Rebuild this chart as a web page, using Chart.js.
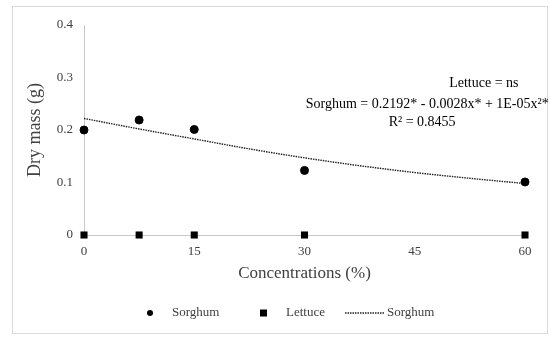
<!DOCTYPE html>
<html><head><meta charset="utf-8">
<script src="https://cdn.jsdelivr.net/npm/chart.js@4/dist/chart.umd.min.js"></script>
<style>html,body{margin:0;padding:0;background:#fff}#w{width:550px;height:337px}</style>
</head><body><div id="w"><canvas id="c" width="550" height="337"></canvas></div>
<script>
const concentrations = [0, 7.5, 15, 30, 60];
const sorghum = [0.200, 0.219, 0.201, 0.123, 0.101];
const lettuce = [0, 0, 0, 0, 0];
const trendX = [0, 7.5, 15, 22.5, 30, 37.5, 45, 52.5, 60];
const trendY = [0.222, 0.202, 0.183, 0.164, 0.147, 0.132, 0.119, 0.108, 0.098];
const xTicks = [0, 15, 30, 45, 60];
const yTicks = [0, 0.1, 0.2, 0.3, 0.4];
const legendLabels = ['Sorghum', 'Lettuce', 'Sorghum'];
const notes = ['Lettuce = ns', 'Sorghum = 0.2192* - 0.0028x* + 1E-05x²*', 'R² = 0.8455'];

const FONT = "'Liberation Serif', 'Times New Roman', serif";
const TXT = '#404040';

const toPts = (xs, ys) => xs.map((x, i) => ({x, y: ys[i]}));

const extras = {
  id: 'extras',
  beforeDraw(chart) {
    const ctx = chart.ctx;
    ctx.save();
    ctx.fillStyle = '#fff';
    ctx.fillRect(0, 0, chart.width, chart.height);
    ctx.strokeStyle = '#d9d9d9';
    ctx.lineWidth = 1;
    ctx.strokeRect(12.5, 6.5, 535, 327);
    ctx.restore();
  },
  afterDraw(chart) {
    const ctx = chart.ctx;
    const xs = chart.scales.x, ys = chart.scales.y;
    ctx.save();
    ctx.fillStyle = '#000';
    ctx.font = '14px ' + FONT;
    ctx.textAlign = 'center';
    ctx.textBaseline = 'middle';
    ctx.fillText(notes[0], xs.getPixelForValue(54.4), ys.getPixelForValue(0.288));
    ctx.fillText(notes[1], xs.getPixelForValue(46.7), ys.getPixelForValue(0.249));
    ctx.fillText(notes[2], xs.getPixelForValue(46.0), ys.getPixelForValue(0.215));
    // legend
    const ly = 313;
    ctx.font = '13px ' + FONT;
    ctx.textAlign = 'left';
    ctx.fillStyle = '#000';
    ctx.beginPath(); ctx.arc(150, ly, 3, 0, Math.PI * 2); ctx.fill();
    ctx.fillStyle = TXT;
    ctx.fillText(legendLabels[0], 172, ly);
    ctx.fillStyle = '#000';
    ctx.fillRect(260, ly - 3.5, 7, 7);
    ctx.fillStyle = TXT;
    ctx.fillText(legendLabels[1], 286, ly);
    ctx.strokeStyle = '#222';
    ctx.lineWidth = 1.3;
    ctx.setLineDash([1.5, 1]);
    ctx.beginPath(); ctx.moveTo(345, ly); ctx.lineTo(384, ly); ctx.stroke();
    ctx.setLineDash([]);
    ctx.fillText(legendLabels[2], 387, ly);
    ctx.restore();
  }
};

new Chart(document.getElementById('c'), {
  type: 'scatter',
  data: {
    datasets: [
      {label: 'Sorghum', data: toPts(concentrations, sorghum), pointStyle: 'circle', pointRadius: 4, backgroundColor: '#000', borderColor: '#000', showLine: false, clip: false, order: 1},
      {label: 'Lettuce', data: toPts(concentrations, lettuce), pointStyle: 'rect', pointRadius: 5, backgroundColor: '#000', borderColor: '#000', borderWidth: 0, showLine: false, clip: false, order: 0},
      {label: 'Sorghum trend', data: toPts(trendX, trendY), showLine: true, pointRadius: 0, borderColor: '#222', borderWidth: 1.4, borderDash: [1.5, 1], tension: 0.4, cubicInterpolationMode: 'monotone', fill: false, clip: false, order: 2}
    ]
  },
  options: {
    responsive: false,
    animation: false,
    events: [],
    layout: {padding: {top: 25, right: 25, left: 12, bottom: 40}},
    plugins: {legend: {display: false}, tooltip: {enabled: false}},
    scales: {
      x: {
        type: 'linear', min: 0, max: 60,
        afterBuildTicks: s => { s.ticks = xTicks.map(v => ({value: v})); },
        afterFit: s => { s.height = 62; },
        grid: {display: true, color: 'rgba(0,0,0,0)', drawTicks: false},
        border: {display: true, color: '#c8c8c8', width: 1},
        ticks: {padding: 9, color: TXT, font: {family: FONT, size: 13}},
        title: {display: true, text: 'Concentrations (%)', color: TXT, font: {family: FONT, size: 17}, padding: {top: 4, bottom: 13}}
      },
      y: {
        type: 'linear', min: 0, max: 0.4,
        afterBuildTicks: s => { s.ticks = yTicks.map(v => ({value: v})); },
        afterFit: s => { s.width = 72; },
        grid: {display: true, color: 'rgba(0,0,0,0)', drawTicks: false},
        border: {display: true, color: '#c8c8c8', width: 1},
        ticks: {padding: 11, color: TXT, font: {family: FONT, size: 13}, callback: v => String(v)},
        title: {display: true, text: 'Dry mass (g)', color: TXT, font: {family: FONT, size: 18}, padding: {top: 12, bottom: 0}}
      }
    }
  },
  plugins: [extras]
});
</script>
</body></html>
